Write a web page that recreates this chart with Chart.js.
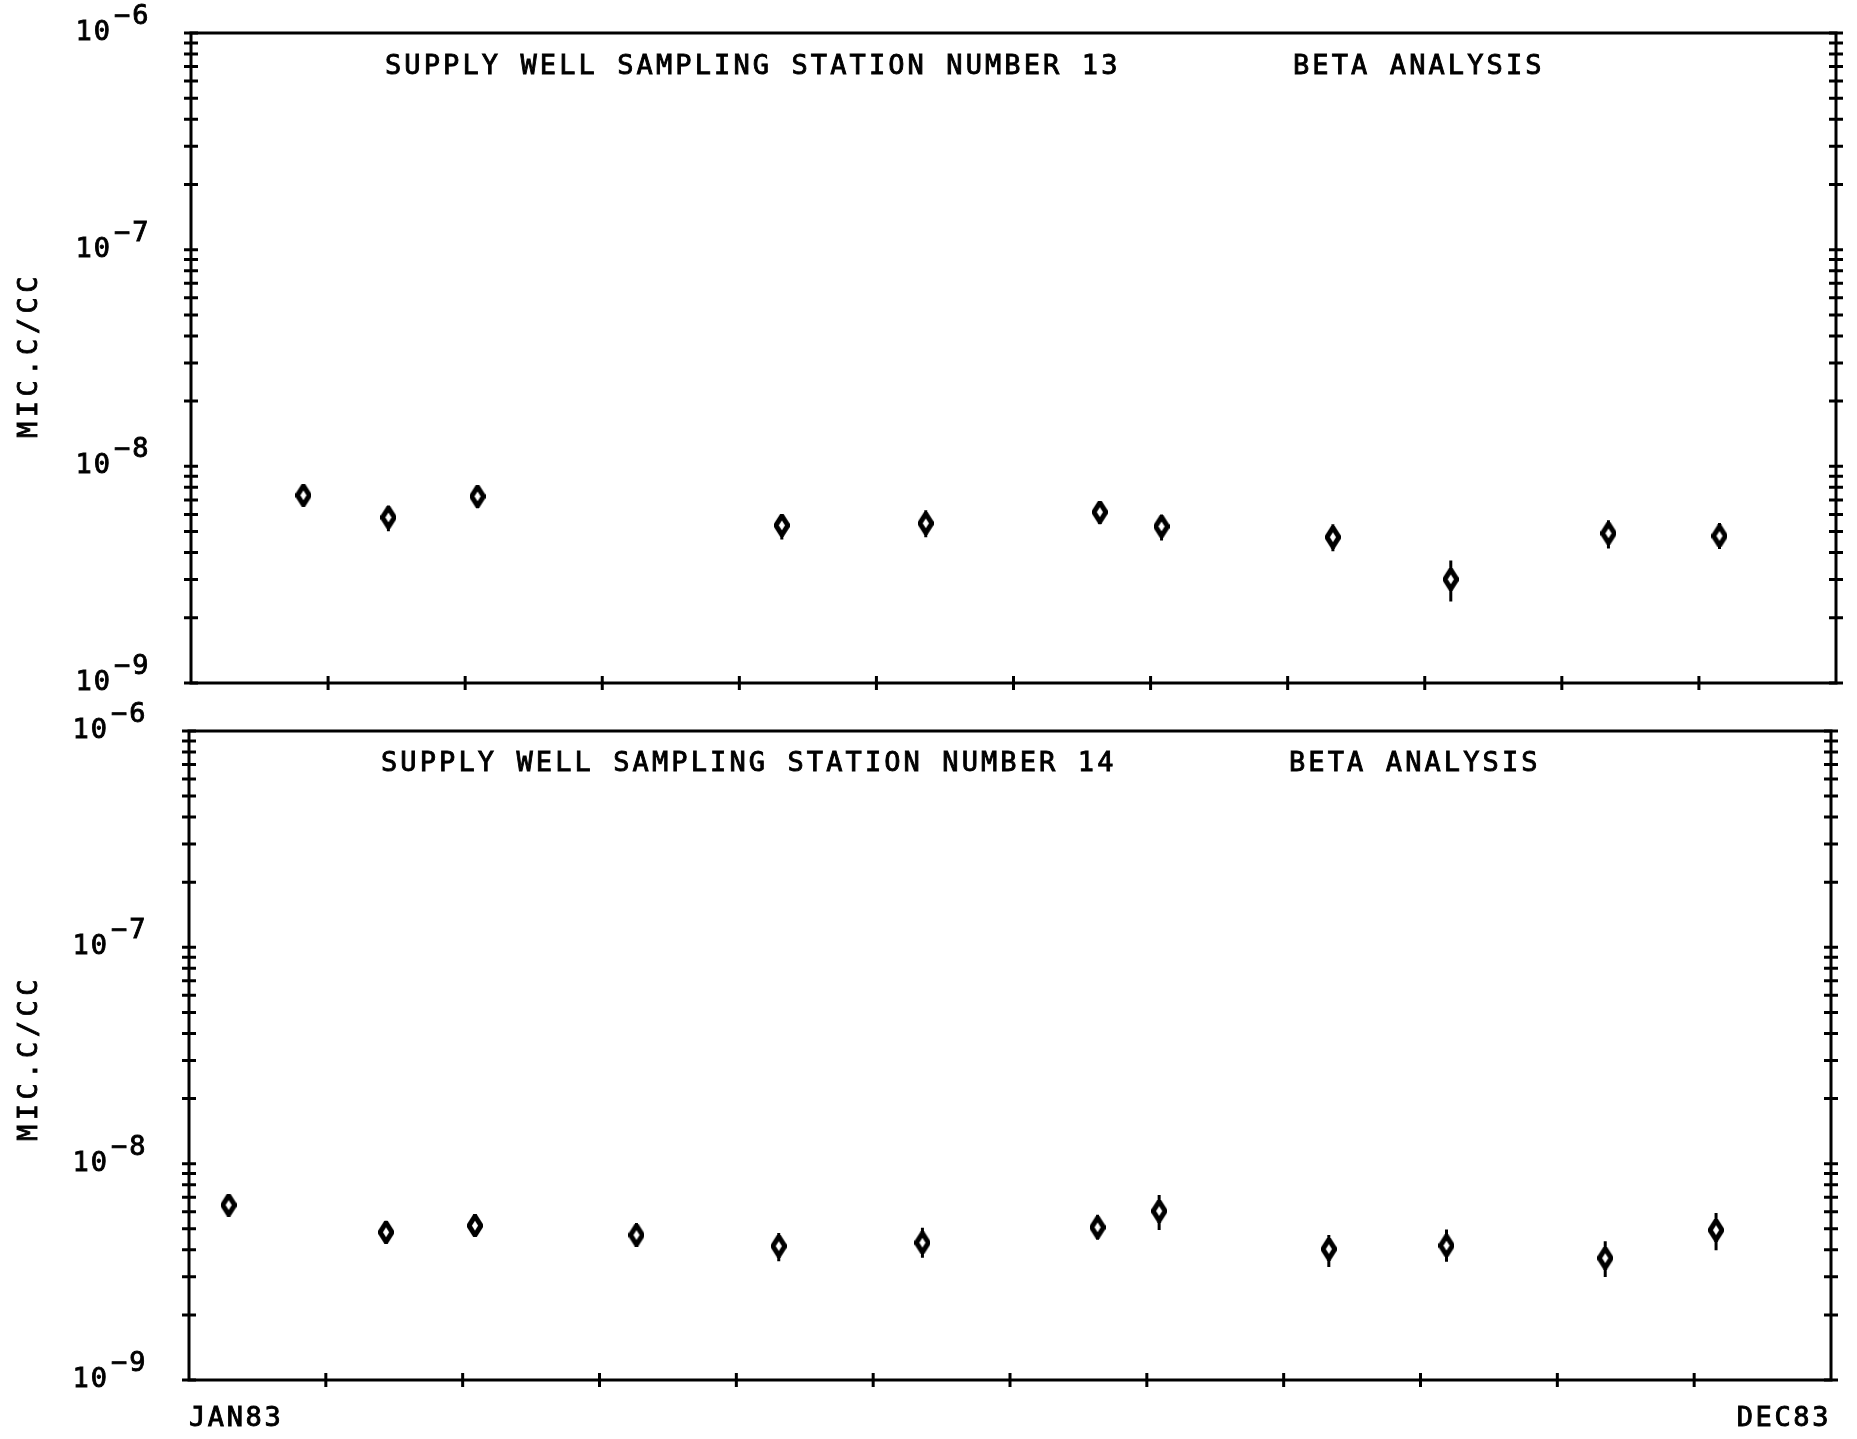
<!DOCTYPE html>
<html lang="en">
<head>
    <meta charset="UTF-8">
    <title>Supply Well Sampling - Beta Analysis</title>
    <script src="https://cdn.jsdelivr.net/npm/chart.js"></script>
    <style>
        body { margin: 0; background: #fff; }
        .panel { position: absolute; left: 0; width: 1857px; }
        #panel13 { top: 0; height: 710px; }
        #panel14 { top: 690px; height: 749px; }
    </style>
</head>
<body>
    <div class="panel" id="panel13"><canvas id="chart13"></canvas></div>
    <div class="panel" id="panel14"><canvas id="chart14"></canvas></div>

<script>
// Station 13 - sample dates (months after 1 Jan 83), beta activity (uCi/cc), error bar ends
const months13 = [0.82, 1.44, 2.09, 4.31, 5.36, 6.63, 7.08, 8.33, 9.19, 10.34, 11.15];
const beta13   = [7.35e-9, 5.81e-9, 7.27e-9, 5.34e-9, 5.46e-9, 6.15e-9, 5.28e-9, 4.71e-9, 3.01e-9, 4.91e-9, 4.77e-9];
const low13    = [6.75e-9, 5.01e-9, 6.40e-9, 4.60e-9, 4.71e-9, 5.41e-9, 4.55e-9, 4.06e-9, 2.38e-9, 4.18e-9, 4.15e-9];
const high13   = [8.17e-9, 6.60e-9, 8.00e-9, 6.00e-9, 6.27e-9, 6.84e-9, 6.00e-9, 5.41e-9, 3.68e-9, 5.64e-9, 5.48e-9];

// Station 14
const months14 = [0.29, 1.44, 2.09, 3.27, 4.31, 5.36, 6.64, 7.09, 8.33, 9.19, 10.35, 11.16];
const beta14   = [6.44e-9, 4.82e-9, 5.17e-9, 4.68e-9, 4.16e-9, 4.31e-9, 5.08e-9, 6.04e-9, 4.03e-9, 4.18e-9, 3.66e-9, 4.93e-9];
const low14    = [5.85e-9, 4.27e-9, 4.58e-9, 4.12e-9, 3.54e-9, 3.67e-9, 4.45e-9, 4.93e-9, 3.33e-9, 3.52e-9, 2.99e-9, 3.98e-9];
const high14   = [7.08e-9, 5.45e-9, 5.84e-9, 5.32e-9, 4.78e-9, 5.06e-9, 5.80e-9, 7.16e-9, 4.68e-9, 4.96e-9, 4.38e-9, 5.91e-9];

// axes
const yDecades = [1e-6, 1e-7, 1e-8, 1e-9];
const yExpLabels = ['\u22126', '\u22127', '\u22128', '\u22129'];
const xMonthTicks = [1, 2, 3, 4, 5, 6, 7, 8, 9, 10, 11];
const xEndLabels = ['JAN83', 'DEC83'];
const yAxisTitle = 'MIC.C/CC';

const FONT = '27px "DejaVu Sans Mono"';

// plotter style diamond marker (thick pen, small open centre)
function diamondMarker() {
    const c = document.createElement('canvas');
    c.width = 16; c.height = 23;
    const g = c.getContext('2d');
    g.beginPath();
    g.moveTo(8, 2); g.lineTo(14, 11.5); g.lineTo(8, 21); g.lineTo(2, 11.5);
    g.closePath();
    g.fillStyle = '#fff'; g.fill();
    g.lineWidth = 5; g.lineJoin = 'round'; g.strokeStyle = '#000'; g.stroke();
    return c;
}
const marker = diamondMarker();

function errorSegments(xs, lo, hi) {
    const pts = [];
    xs.forEach((x, i) => {
        pts.push({ x: x, y: lo[i] }, { x: x, y: hi[i] }, { x: x, y: null });
    });
    return pts;
}

// text with a thin stroke so it looks like plotter pen
function penText(ctx, s, x, y) {
    ctx.fillText(s, x, y);
    ctx.strokeText(s, x, y);
}

// frame, crossing ticks and texts
const plotterFrame = {
    id: 'plotterFrame',
    beforeDatasetsDraw(chart, args, opts) {
        const { ctx, chartArea: a, scales: { x, y } } = chart;
        ctx.save();
        ctx.strokeStyle = '#000';
        ctx.lineWidth = 3;
        ctx.strokeRect(a.left, a.top, a.right - a.left, a.bottom - a.top);
        ctx.beginPath();
        for (let d = -9; d <= -6; d++) {
            for (let m = 1; m <= 9; m++) {
                const v = m * Math.pow(10, d);
                if (v > 1e-6 * 1.0001) break;
                const py = y.getPixelForValue(v);
                ctx.moveTo(a.left - 7, py); ctx.lineTo(a.left + 7, py);
                ctx.moveTo(a.right - 7, py); ctx.lineTo(a.right + 7, py);
            }
        }
        xMonthTicks.forEach(t => {
            const px = x.getPixelForValue(t);
            ctx.moveTo(px, a.bottom - 7); ctx.lineTo(px, a.bottom + 7);
        });
        ctx.stroke();
        ctx.restore();
    },
    afterDraw(chart, args, opts) {
        const { ctx, chartArea: a, scales: { x, y } } = chart;
        ctx.save();
        ctx.fillStyle = '#000';
        ctx.strokeStyle = '#000';
        ctx.lineWidth = 0.9;
        ctx.font = FONT;
        ctx.textBaseline = 'middle';
        ctx.letterSpacing = '2px';

        // decade labels 10^-n
        yDecades.forEach((v, i) => {
            const py = y.getPixelForValue(v);
            ctx.textAlign = 'right';
            penText(ctx, '10', opts.labelRight, py);
            ctx.textAlign = 'left';
            penText(ctx, yExpLabels[i], opts.labelRight + 2, py - 16);
        });

        // panel titles
        ctx.letterSpacing = '3.1px';
        ctx.textAlign = 'left';
        penText(ctx, opts.title, opts.titleX, opts.titleY);
        penText(ctx, 'BETA ANALYSIS', opts.betaX, opts.titleY);

        // y axis title
        ctx.save();
        ctx.letterSpacing = '4.5px';
        ctx.translate(30, opts.yTitleY);
        ctx.rotate(-Math.PI / 2);
        ctx.textAlign = 'center';
        penText(ctx, yAxisTitle, 0, 0);
        ctx.restore();

        // date range under the lower panel
        if (opts.showDates) {
            ctx.letterSpacing = '2.6px';
            ctx.textAlign = 'left';
            penText(ctx, xEndLabels[0], a.left, opts.dateY);
            ctx.textAlign = 'right';
            penText(ctx, xEndLabels[1], a.right, opts.dateY);
        }
        ctx.restore();
    }
};

function makeChart(id, months, beta, lo, hi, padding, frameOpts) {
    return new Chart(document.getElementById(id), {
        type: 'scatter',
        data: {
            datasets: [
                {
                    data: errorSegments(months, lo, hi),
                    showLine: true,
                    spanGaps: false,
                    borderColor: '#000',
                    borderWidth: 3,
                    pointRadius: 0,
                    order: 1
                },
                {
                    data: months.map((m, i) => ({ x: m, y: beta[i] })),
                    pointStyle: marker,
                    pointRadius: 7,
                    order: 0
                }
            ]
        },
        options: {
            responsive: true,
            maintainAspectRatio: false,
            animation: false,
            layout: { padding: padding },
            scales: {
                x: { type: 'linear', min: 0, max: 12, display: false },
                y: { type: 'logarithmic', min: 1e-9, max: 1e-6, display: false }
            },
            plugins: {
                legend: { display: false },
                tooltip: { enabled: false },
                plotterFrame: frameOpts
            }
        },
        plugins: [plotterFrame]
    });
}

makeChart('chart13', months13, beta13, low13, high13,
    { left: 191, right: 21, top: 33, bottom: 27 },
    { labelRight: 112, title: 'SUPPLY WELL SAMPLING STATION NUMBER 13', titleX: 385, titleY: 67, betaX: 1293, yTitleY: 355, showDates: false });

makeChart('chart14', months14, beta14, low14, high14,
    { left: 189, right: 26, top: 41, bottom: 59 },
    { labelRight: 109, title: 'SUPPLY WELL SAMPLING STATION NUMBER 14', titleX: 381, titleY: 74, betaX: 1289, yTitleY: 368, showDates: true, dateY: 729 });
</script>
</body>
</html>
